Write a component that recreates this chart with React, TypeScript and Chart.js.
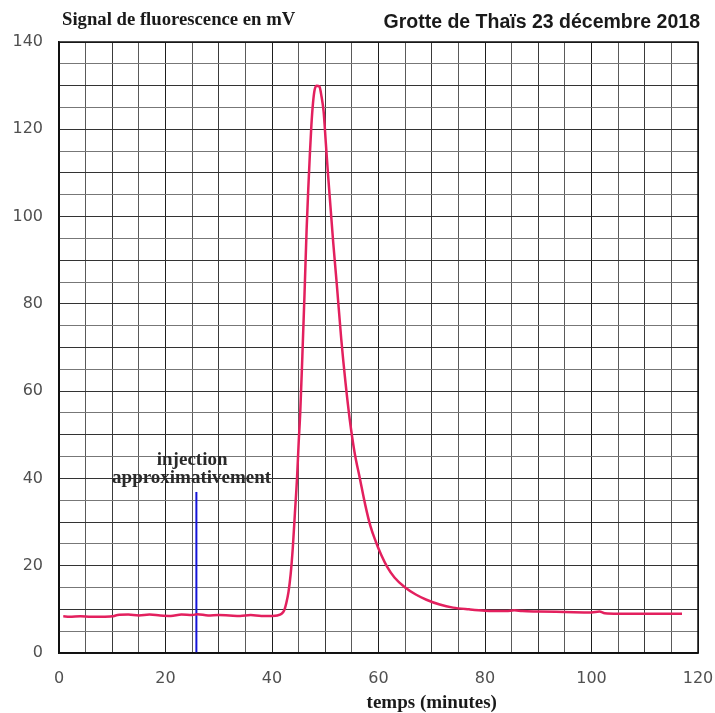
import React, { useEffect, useRef } from "react";
import { Chart, registerables } from "chart.js";

Chart.register(...registerables);

const times = [
  0.8, 2, 4, 6, 8, 10, 11, 13, 15, 17, 19, 21, 23, 25, 26, 28, 30, 32, 34, 36, 38, 40, 41,
  41.8, 42.3, 42.7, 43.1, 43.5, 43.9, 44.3, 44.7, 45.0, 45.3, 45.7, 46.1, 46.5, 46.8, 47.1,
  47.4, 47.7, 48.0, 48.4, 48.9, 49.3, 49.7, 50.1, 50.5, 51.0, 51.5, 52.2, 53.0, 53.8, 54.6,
  55.5, 56.5, 57.5, 58.5, 59.5, 60.5, 61.6, 63, 65, 67, 69, 71.5, 74, 77, 80, 84, 85.5, 87,
  90, 95, 100, 101.5, 102.5, 105, 110, 114, 117,
];
const signal = [
  8.4, 8.3, 8.4, 8.3, 8.3, 8.4, 8.7, 8.8, 8.6, 8.8, 8.6, 8.5, 8.8, 8.7, 8.9, 8.6, 8.7, 8.6, 8.5, 8.7, 8.5, 8.5, 8.6,
  9.0, 9.8, 11.5, 14, 18, 24, 32, 40, 48, 55, 68, 82, 97, 106, 114,
  121, 126, 129, 130, 129.8, 127.5, 124, 117, 110, 102, 94, 84, 72, 62, 53.5,
  46, 40, 34, 29, 25.5, 22.5, 19.8, 17.3, 15, 13.4, 12.2, 11.1, 10.4, 10.0, 9.7, 9.6, 9.8, 9.6,
  9.5, 9.4, 9.3, 9.5, 9.1, 9.0, 9.0, 9.0, 9.0,
];

const injectionX = [25.8, 25.8];
const injectionY = [0, 36.9];

const xTicksShown = [0, 20, 40, 60, 80, 100, 120];
const yTicksShown = [0, 20, 40, 60, 80, 100, 120, 140];

const titleLeft = "Signal de fluorescence en mV";
const titleRight = "Grotte de Thaïs 23 décembre 2018";
const xTitle = "temps (minutes)";
const injLine1 = "injection";
const injLine2 = "approximativement";

const textPlugin = {
  id: "texts",
  afterDraw(chart: any) {
    const { ctx, chartArea, scales } = chart;
    const xs = scales.x;
    const ys = scales.y;
    ctx.save();
    ctx.strokeStyle = "#111";
    ctx.lineWidth = 1.5;
    ctx.strokeRect(chartArea.left, chartArea.top, chartArea.right - chartArea.left, chartArea.bottom - chartArea.top);
    ctx.fillStyle = "#1a1a1a";
    ctx.textBaseline = "alphabetic";
    ctx.font = "bold 18.7px 'Liberation Serif', serif";
    ctx.textAlign = "left";
    ctx.fillText(titleLeft, 62, 25);
    ctx.font = "bold 19.5px 'Liberation Sans', Arial, sans-serif";
    ctx.textAlign = "right";
    ctx.fillText(titleRight, 700, 28);
    ctx.font = "bold 19px 'Liberation Serif', serif";
    ctx.textAlign = "center";
    ctx.textBaseline = "middle";
    ctx.fillText(xTitle, xs.getPixelForValue(70), 703);
    ctx.fillStyle = "#2a2a2a";
    ctx.fillText(injLine1, xs.getPixelForValue(25), ys.getPixelForValue(44.2));
    ctx.fillText(injLine2, xs.getPixelForValue(24.9), ys.getPixelForValue(40.1));
    ctx.restore();
  },
};

function gridColorX(c: any) {
  const v = c.tick ? c.tick.value : 0;
  if (v % 20 === 0) return "#1e1e1e";
  if (v % 10 === 0) return "#3a3a3a";
  return "#5a5a5a";
}
function gridColorY(c: any) {
  const v = c.tick ? c.tick.value : 0;
  if (v % 10 === 0) return "#333";
  return "#777";
}

export default function App() {
  const ref = useRef<HTMLCanvasElement>(null);
  useEffect(() => {
    if (!ref.current) return;
    const chart = new Chart(ref.current, {
      type: "line",
      data: {
        datasets: [
          {
            data: times.map((t, i) => ({ x: t, y: signal[i] })),
            borderColor: "#e3205e",
            borderWidth: 2.5,
            pointRadius: 0,
            cubicInterpolationMode: "monotone",
          },
          {
            data: injectionX.map((t, i) => ({ x: t, y: injectionY[i] })),
            borderColor: "#1414d8",
            borderWidth: 2,
            pointRadius: 0,
          },
        ],
      },
      options: {
        animation: false,
        responsive: false,
        layout: { padding: { top: 42, right: 17, left: 0, bottom: 0 } },
        plugins: { legend: { display: false }, tooltip: { enabled: false }, title: { display: false } },
        scales: {
          x: {
            type: "linear",
            min: 0,
            max: 120,
            afterFit: (s: any) => {
              s.height = 60;
              s.paddingRight = 0;
              s.paddingLeft = 0;
            },
            grid: { color: gridColorX, lineWidth: 1, drawTicks: false },
            border: { color: "#111", width: 1.5 },
            ticks: {
              stepSize: 5,
              padding: 16,
              color: "#505050",
              font: { family: "'DejaVu Sans', sans-serif", size: 16 },
              callback: (v: any) => (xTicksShown.includes(v) ? String(v) : ""),
              maxRotation: 0,
              autoSkip: false,
            },
          },
          y: {
            type: "linear",
            min: 0,
            max: 140,
            afterFit: (s: any) => {
              s.width = 59;
              s.paddingTop = 0;
              s.paddingBottom = 0;
            },
            grid: { color: gridColorY, lineWidth: 1, drawTicks: false },
            border: { color: "#111", width: 1.5 },
            ticks: {
              stepSize: 5,
              padding: 16,
              color: "#505050",
              font: { family: "'DejaVu Sans', sans-serif", size: 16 },
              callback: (v: any) => (yTicksShown.includes(v) ? String(v) : ""),
              autoSkip: false,
            },
          },
        },
      },
      plugins: [textPlugin],
    } as any);
    return () => chart.destroy();
  }, []);
  return (
    <div style={{ position: "fixed", left: 0, top: 0, width: 715, height: 713, background: "#fff" }}>
      <canvas ref={ref} width={715} height={713} style={{ display: "block" }} />
    </div>
  );
}
